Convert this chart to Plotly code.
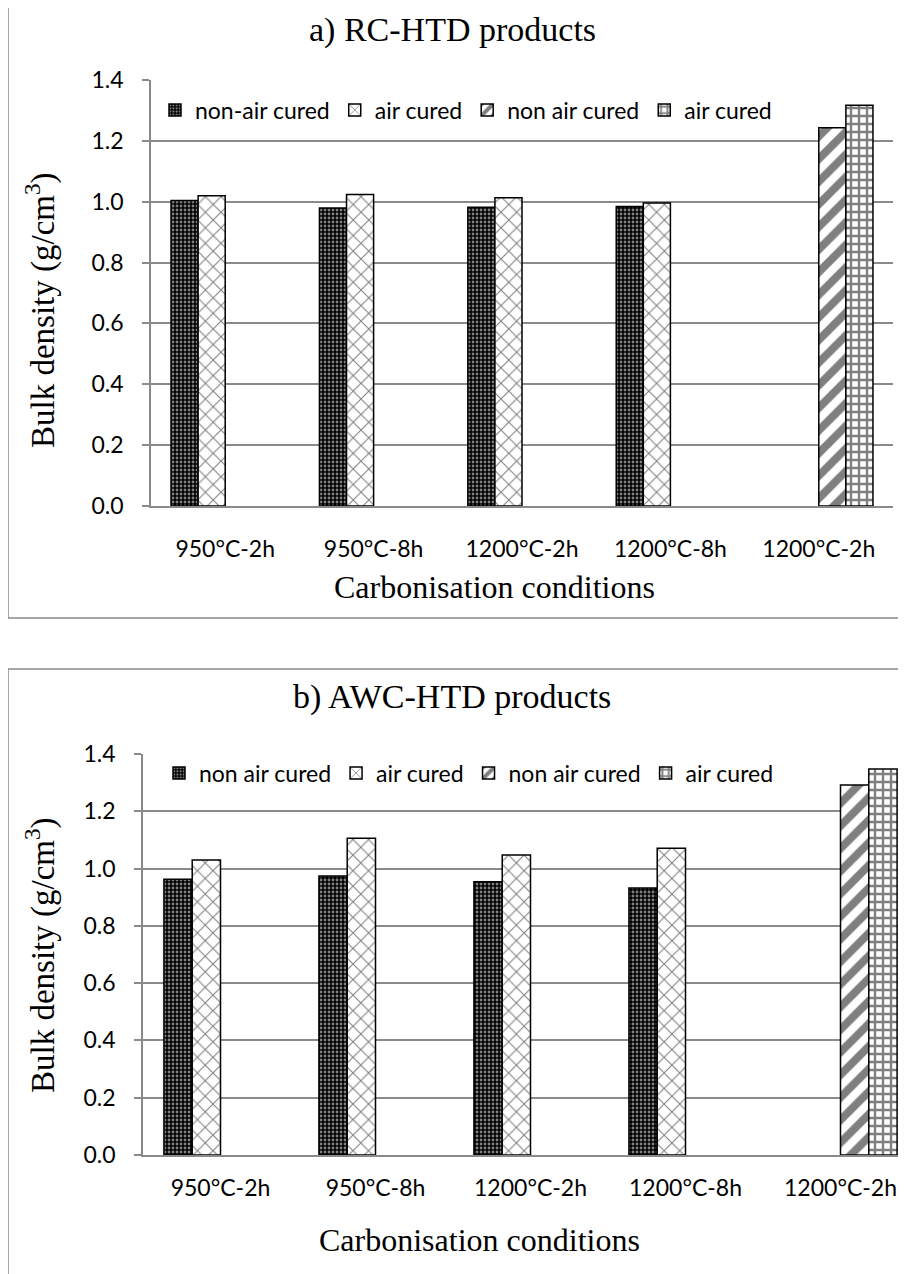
import plotly.graph_objects as go

OFF = 8  # page body margin
W, H = 906 - OFF, 1274 - OFF

categories = ["950°C-2h", "950°C-8h", "1200°C-2h", "1200°C-8h", "1200°C-2h"]

a_names = ["non-air cured", "air cured", "non air cured", "air cured"]
a_non_air = [1.004, 0.979, 0.982, 0.984, None]
a_air = [1.020, 1.024, 1.013, 0.996, None]
a_non_air_2 = [None, None, None, None, 1.243]
a_air_2 = [None, None, None, None, 1.317]

b_names = ["non air cured", "air cured", "non air cured", "air cured"]
b_non_air = [0.963, 0.974, 0.954, 0.932, None]
b_air = [1.030, 1.106, 1.047, 1.071, None]
b_non_air_2 = [None, None, None, None, 1.292]
b_air_2 = [None, None, None, None, 1.348]

y_ticks = [0.0, 0.2, 0.4, 0.6, 0.8, 1.0, 1.2, 1.4]

positions = list(range(len(categories)))

patterns = [
    dict(shape=".", size=4, solidity=0.4, fgcolor="white", bgcolor="black"),
    dict(shape="x", size=11, solidity=0.18, fgcolor="black", bgcolor="white"),
    dict(shape="/", size=16, solidity=0.5, fgcolor="black", bgcolor="white"),
    dict(shape="+", size=8, solidity=0.5, fgcolor="black", bgcolor="white"),
]

fig = go.Figure()

for name, vals, pat in zip(a_names, [a_non_air, a_air, a_non_air_2, a_air_2], patterns):
    fig.add_trace(go.Bar(
        x=positions, y=vals, name=name, xaxis="x", yaxis="y", legend="legend",
        marker=dict(color="white", pattern=pat, line=dict(color="black", width=1.5)),
    ))

for name, vals, pat in zip(b_names, [b_non_air, b_air, b_non_air_2, b_air_2], patterns):
    fig.add_trace(go.Bar(
        x=positions, y=vals, name=name, xaxis="x2", yaxis="y2", legend="legend2",
        marker=dict(color="white", pattern=pat, line=dict(color="black", width=1.5)),
    ))

def px_x(v):
    return (v - OFF) / W

def px_y(v):
    return 1 - (v - OFF) / H

grid = "#8a8a8a"
tick_font = dict(family="Lato", size=23, color="black")
serif = "Liberation Serif"

common_y = dict(
    range=[0, 1.4], tickvals=y_ticks, tickformat=".1f",
    showgrid=True, gridcolor=grid, gridwidth=1.5,
    showline=True, linecolor=grid, linewidth=1.5,
    ticks="outside", ticklen=7, tickcolor=grid, tickwidth=1.5,
    tickfont=tick_font, zeroline=False, automargin=False,
    ticklabelstandoff=14, fixedrange=True,
)
common_x = dict(
    tickvals=positions, ticktext=categories,
    showgrid=False, showline=True, linecolor=grid, linewidth=1.5,
    ticks="", tickfont=tick_font, zeroline=False, automargin=False,
    fixedrange=True,
)

b_right = min(1.0, px_x(906))

fig.update_layout(
    width=W, height=H,
    margin=dict(l=0, r=0, t=0, b=0),
    paper_bgcolor="white", plot_bgcolor="white",
    barmode="group", bargap=0.27, bargroupgap=0,
    xaxis=dict(common_x, domain=[px_x(151), px_x(893)], range=[-0.5, 4.5],
               anchor="y", ticklabelstandoff=22),
    yaxis=dict(common_y, domain=[px_y(506), px_y(80)], anchor="x"),
    xaxis2=dict(common_x, domain=[px_x(143), b_right],
                range=[-0.5, -0.5 + (906 - 143) / 155.0],
                anchor="y2", ticklabelstandoff=12),
    yaxis2=dict(common_y, domain=[px_y(1155), px_y(754)], anchor="x2"),
    legend=dict(orientation="h", x=px_x(155), y=px_y(110), xanchor="left", yanchor="middle",
                font=dict(family="Lato", size=23, color="black"), bgcolor="rgba(0,0,0,0)",
                traceorder="normal"),
    legend2=dict(orientation="h", x=px_x(159), y=px_y(773), xanchor="left", yanchor="middle",
                 font=dict(family="Lato", size=23, color="black"), bgcolor="rgba(0,0,0,0)",
                 traceorder="normal"),
    shapes=[
        dict(type="rect", xref="paper", yref="paper", x0=px_x(8), x1=px_x(902),
             y0=px_y(7), y1=px_y(618), line=dict(color=grid, width=1.5), layer="below"),
        dict(type="rect", xref="paper", yref="paper", x0=px_x(8), x1=1.05,
             y0=px_y(669), y1=-0.05, line=dict(color=grid, width=1.5), layer="below"),
    ],
    annotations=[
        dict(text="a) RC-HTD products", xref="paper", yref="paper", x=px_x(452), y=px_y(30),
             showarrow=False, font=dict(family=serif, size=34, color="black"),
             xanchor="center", yanchor="middle"),
        dict(text="b) AWC-HTD products", xref="paper", yref="paper", x=px_x(452), y=px_y(697),
             showarrow=False, font=dict(family=serif, size=34, color="black"),
             xanchor="center", yanchor="middle"),
        dict(text="Carbonisation conditions", xref="paper", yref="paper", x=px_x(494), y=px_y(587),
             showarrow=False, font=dict(family=serif, size=32, color="black"),
             xanchor="center", yanchor="middle"),
        dict(text="Carbonisation conditions", xref="paper", yref="paper", x=px_x(479), y=px_y(1240),
             showarrow=False, font=dict(family=serif, size=32, color="black"),
             xanchor="center", yanchor="middle"),
        dict(text="Bulk density (g/cm<sup>3</sup>)", xref="paper", yref="paper", x=px_x(40), y=px_y(310),
             showarrow=False, textangle=-90, font=dict(family=serif, size=33, color="black"),
             xanchor="center", yanchor="middle"),
        dict(text="Bulk density (g/cm<sup>3</sup>)", xref="paper", yref="paper", x=px_x(40), y=px_y(955),
             showarrow=False, textangle=-90, font=dict(family=serif, size=33, color="black"),
             xanchor="center", yanchor="middle"),
    ],
)

fig.write_html("out.html")
